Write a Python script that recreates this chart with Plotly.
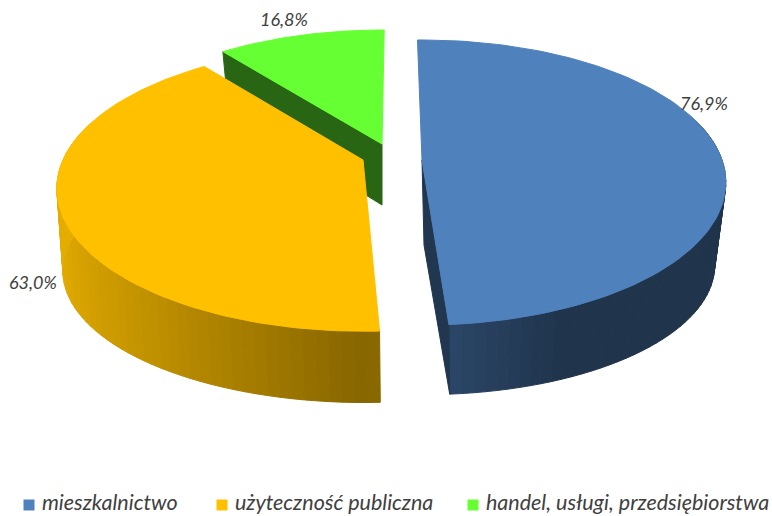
import numpy as np
import plotly.graph_objects as go

categories = ["mieszkalnictwo", "użyteczność publiczna", "handel, usługi, przedsiębiorstwa"]
values = [76.9, 63.0, 16.8]
top_colors = ["#4F81BD", "#FFC000", "#66FF33"]

# view geometry of the tilted 3D pie (pixel scale of the axes)
K = [0.158, 0.20, 0.158]
APEX = [(422, 160), (363, 160), (382, 144)]
APEX_LOW = [(424, 245), (364, 245), (382, 205)]
RX = [300, 300, 290]
RY = [139, 137, 132]
LOW_RX = [287, 295, 280]
LOW_RY = [126, 126, 136]
SHADE_FRONT = [0.58, 0.53, 0.42]
SHADE_SIDE = [0.40, 0.90, 0.42]
SHADE_FADE = [0.4, 1.0, 1.0]
ROTATE = [-1.0, 0.8, 0.5]
LABEL_POS = [(704, 103), (33, 282), (284, 19)]
LEGEND_X = [29, 222, 473]
LEGEND_Y = 505


def rim(i, theta, low=False):
    t = np.radians(theta)
    X, Y = np.sin(t), np.cos(t)
    s = 1 / (1 + K[i] * Y)
    ax, ay = (APEX_LOW if low else APEX)[i]
    rx, ry = (LOW_RX if low else RX)[i], (LOW_RY if low else RY)[i]
    return ax + rx * X * s, ay - ry * Y * s


def shade(hex_color, f):
    rgb = [int(hex_color[j:j + 2], 16) for j in (1, 3, 5)]
    return "rgb(%d,%d,%d)" % tuple(round(c * f) for c in rgb)


def poly(xs, ys, color):
    return go.Scatter(x=list(xs), y=list(ys), mode="lines", fill="toself", fillcolor=color,
                      line=dict(color=color, width=1), hoverinfo="skip", showlegend=False)


total = sum(values)
edges = np.concatenate([[0], np.cumsum(values)]) / total * 360

fig = go.Figure()
for i in [2, 1, 0]:
    a0, a1 = edges[i] + ROTATE[i], edges[i + 1] + ROTATE[i]
    # outer wall strips (only the part that faces the viewer)
    steps = np.linspace(a0, a1, int((a1 - a0) / 2) + 2)
    for p, q in zip(steps[:-1], steps[1:]):
        m = (p + q) / 2
        if np.cos(np.radians(m)) > 0.3:
            continue
        amount = min(1.0, abs(np.sin(np.radians(m))) / SHADE_FADE[i])
        f = SHADE_FRONT[i] + (SHADE_SIDE[i] - SHADE_FRONT[i]) * amount
        x0, y0 = rim(i, p)
        x1, y1 = rim(i, q)
        x2, y2 = rim(i, q, True)
        x3, y3 = rim(i, p, True)
        fig.add_trace(poly([x0, x1, x2, x3, x0], [y0, y1, y2, y3, y0], shade(top_colors[i], f)))
    # visible cut faces
    if i == 0:
        xa, ya = rim(i, a1)
        xb, yb = rim(i, a1, True)
        fig.add_trace(poly([APEX[0][0], xa, xb, APEX_LOW[0][0], APEX[0][0]],
                           [APEX[0][1], ya, yb, APEX_LOW[0][1], APEX[0][1]], shade(top_colors[0], 0.42)))
    if i == 2:
        xa, ya = rim(i, a0)
        xb, yb = rim(i, a0, True)
        fig.add_trace(poly([APEX[2][0], xa, xb, APEX_LOW[2][0], APEX[2][0]],
                           [APEX[2][1], ya, yb, APEX_LOW[2][1], APEX[2][1]], shade(top_colors[2], 0.40)))
    # top face
    arc = np.linspace(a0, a1, 120)
    pts = [rim(i, a) for a in arc]
    xs = [APEX[i][0]] + [p[0] for p in pts] + [APEX[i][0]]
    ys = [APEX[i][1]] + [p[1] for p in pts] + [APEX[i][1]]
    fig.add_trace(poly(xs, ys, top_colors[i]))

# value labels
for v, (lx, ly) in zip(values, LABEL_POS):
    fig.add_annotation(x=lx, y=ly, text=f"<i>{v:.1f}%</i>".replace(".", ","), showarrow=False,
                       font=dict(family="Lato", size=18, color="#404040"))

# legend row
fig.add_trace(go.Scatter(x=LEGEND_X, y=[LEGEND_Y] * 3, mode="markers+text", text=["<i> %s</i>" % c for c in categories],
                         textposition="middle right",
                         textfont=dict(family="Lato", size=21.5, color="#404040"),
                         marker=dict(symbol="square", size=11, color=top_colors),
                         cliponaxis=False, hoverinfo="skip", showlegend=False))

fig.update_layout(width=772, height=516, margin=dict(l=0, r=0, t=0, b=0),
                  paper_bgcolor="white", plot_bgcolor="white", showlegend=False,
                  xaxis=dict(range=[0, 772], visible=False, fixedrange=True),
                  yaxis=dict(range=[516, 0], visible=False, fixedrange=True))
fig.write_html("out.html", post_script="document.body.style.margin='0';", config={"displayModeBar": False})
